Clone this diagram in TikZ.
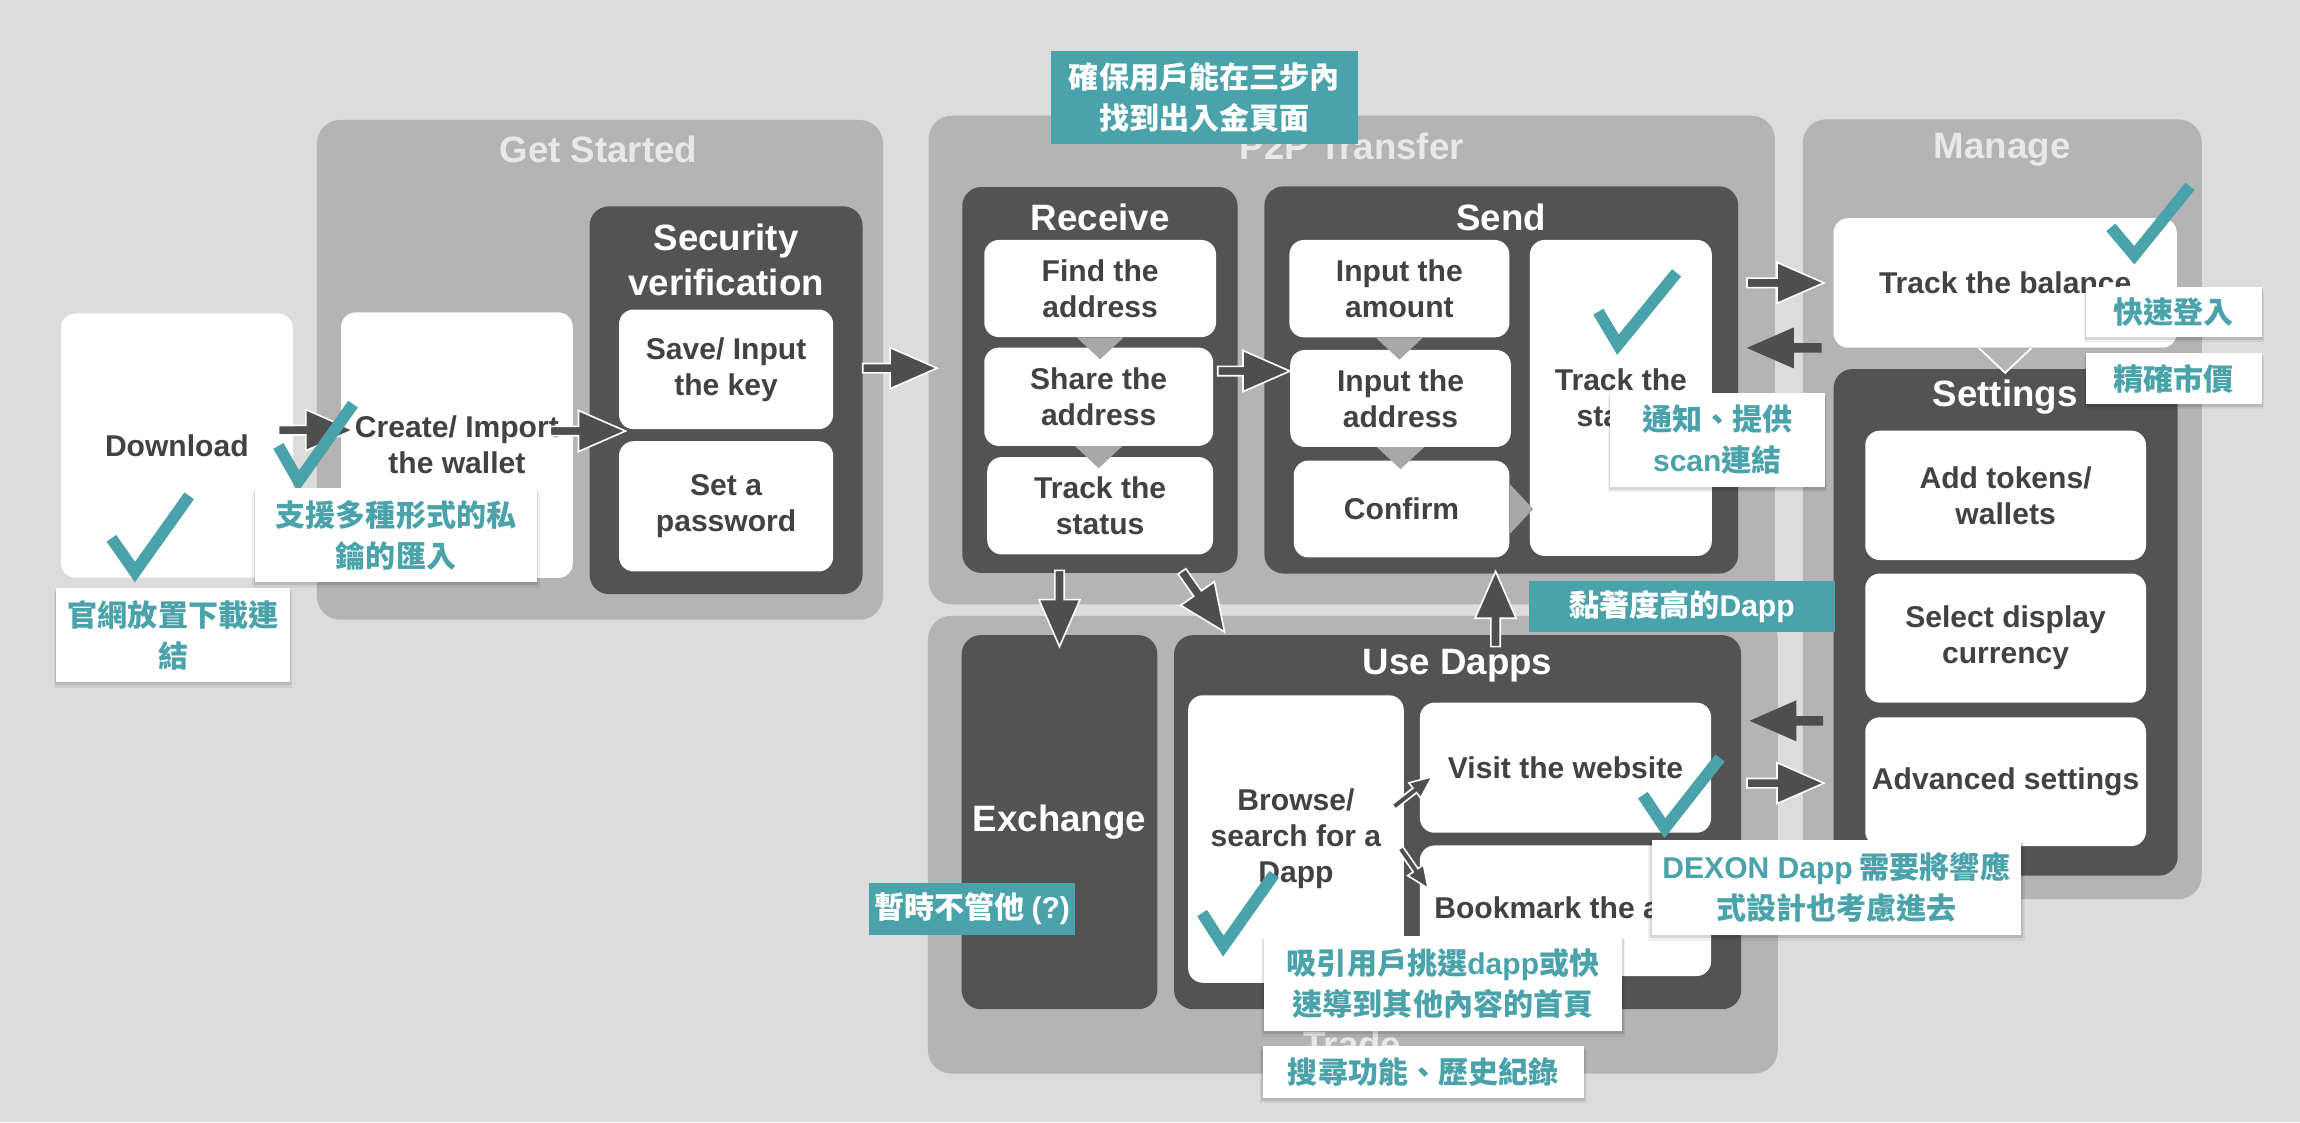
\documentclass[tikz,border=0pt]{standalone}
\usepackage{fontspec}
\setmainfont{Liberation Sans}
\newfontfamily\cjk{Noto Sans CJK TC}
\usetikzlibrary{calc,shadows}
\definecolor{bgc}{RGB}{220,220,220}
\definecolor{panelc}{RGB}{180,180,180}
\definecolor{darkc}{RGB}{83,83,83}
\definecolor{txtc}{RGB}{66,66,66}
\definecolor{tealc}{RGB}{74,163,170}
\definecolor{ptitlec}{RGB}{232,232,232}
\definecolor{tric}{RGB}{168,168,168}
\definecolor{arrc}{RGB}{78,78,78}
\newcommand\lat[1]{{\rmfamily #1}}
\def\arsw{3.2pt}\def\arhw{14pt}\def\arhl{32pt}
\tikzset{
  panelbox/.style={fill=panelc, rounded corners=16pt, inner sep=0pt},
  darkbox/.style={fill=darkc, rounded corners=13pt, inner sep=0pt},
  wbox/.style={fill=white, rounded corners=10pt, inner sep=0pt, text=txtc, align=center,
    font=\bfseries\fontsize{20.5}{24.5}\selectfont},
  ptitle/.style={text=ptitlec, inner sep=0pt, font=\bfseries\fontsize{25}{31}\selectfont},
  dtitle/.style={text=white, align=center, inner sep=0pt, font=\bfseries\fontsize{25}{31}\selectfont},
  blockpath/.style={to path={let \p1=(\tikztostart), \p2=(\tikztotarget),
      \n1={atan2(\y2-\y1,\x2-\x1)} in
      ($(\p1)+(\n1+90:\arsw)$) -- ($(\p2)+(\n1+180:\arhl)+(\n1+90:\arsw)$)
      -- ($(\p2)+(\n1+180:\arhl)+(\n1+90:\arhw)$) -- (\p2)
      -- ($(\p2)+(\n1+180:\arhl)+(\n1-90:\arhw)$) -- ($(\p2)+(\n1+180:\arhl)+(\n1-90:\arsw)$)
      -- ($(\p1)+(\n1-90:\arsw)$) -- cycle}},
  barrow/.style={blockpath, fill=arrc, draw=white, line width=1.1pt, line join=miter},
  parrow/.style={blockpath, fill=arrc},
  smallarrow/.style={/utils/exec={\def\arsw{2pt}\def\arhw{6.5pt}\def\arhl{15pt}}},
  tri/.style={fill=tric},
  check/.style={draw=tealc, line width=8pt, line cap=butt, line join=miter},
  wnote/.style={fill=white, inner sep=0pt, text=tealc, align=center,
    font=\cjk\bfseries\fontsize{20.5}{28}\selectfont,
    drop shadow={shadow xshift=0pt, shadow yshift=-3pt, shadow scale=1.02, opacity=0.06, fill=black},
    drop shadow={shadow xshift=0pt, shadow yshift=-1.5pt, shadow scale=1.01, opacity=0.1, fill=black}},
  tnote/.style={fill=tealc, inner sep=0pt, text=white, align=center,
    font=\cjk\bfseries\fontsize{20.5}{28}\selectfont},
}
\begin{document}
\begin{tikzpicture}[x=1pt,y=-1pt]
\useasboundingbox[fill=bgc] (0,0) rectangle (1568,765);

% panels
\node[panelbox, minimum width=386pt, minimum height=340.7pt] (gs) at (409,252.15) {};
\node[panelbox, minimum width=577pt, minimum height=333.1pt] (p2p) at (921.5,245.45) {};
\node[panelbox, minimum width=579.4pt, minimum height=312.1pt] (trd) at (922.3,575.85) {};
\node[panelbox, minimum width=272pt, minimum height=531.6pt] (mng) at (1365,347.2) {};
\node[ptitle] (gst) at (408,101.6) {Get Started};
\node[ptitle] (p2pt) at (921.5,100) {P2P Transfer};
\node[ptitle] (trdt) at (922,712) {Trade};
\node[ptitle] (mngt) at (1365,102) {Manage};

% get started
\node[wbox, minimum width=158.1pt, minimum height=180.1pt] (dl) at (120.55,303.75) {Download};
\node[wbox, minimum width=158pt, minimum height=181pt] (cr) at (311.5,303.5) {Create/ Import\\the wallet};
\node[darkbox, minimum width=186pt, minimum height=264.3pt] (sec) at (495,272.85) {};
\node[dtitle] (sect) at (495,177) {Security\\verification};
\node[wbox, minimum width=146pt, minimum height=81.6pt] (sk) at (495,251.8) {Save/ Input\\the key};
\node[wbox, minimum width=146pt, minimum height=88.8pt] (pw) at (495,345.2) {Set a\\password};

% receive
\node[darkbox, minimum width=187.7pt, minimum height=263.1pt] (rcv) at (749.85,259.05) {};
\node[dtitle] (rcvt) at (750,148) {Receive};
\node[wbox, minimum width=158pt, minimum height=66.2pt] (find) at (750,196.7) {Find the\\address};
\node[wbox, minimum width=156pt, minimum height=67pt] (share) at (749,270.5) {Share the\\address};
\node[wbox, minimum width=154pt, minimum height=66.4pt] (rtrack) at (750,344.8) {Track the\\status};

% send
\node[darkbox, minimum width=323pt, minimum height=264pt] (snd) at (1023.5,259) {};
\node[dtitle] (sndt) at (1023.5,148) {Send};
\node[wbox, minimum width=150pt, minimum height=66.4pt] (amt) at (954,196.8) {Input the\\amount};
\node[wbox, minimum width=150.4pt, minimum height=66.1pt] (iaddr) at (954.8,271.65) {Input the\\address};
\node[wbox, minimum width=147pt, minimum height=66pt] (conf) at (955.5,347) {Confirm};
\node[wbox, minimum width=124pt, minimum height=215.4pt] (strack) at (1105,271.3) {Track the\\status};

% manage
\node[wbox, minimum width=234pt, minimum height=88.3pt] (bal) at (1367,192.85) {Track the balance};
\node[darkbox, minimum width=234.6pt, minimum height=345.4pt] (sett) at (1367.3,424.3) {};
\node[dtitle] (settt) at (1367,271) {Settings};
\node[wbox, minimum width=191.4pt, minimum height=88.2pt] (tok) at (1367.3,337.7) {Add tokens/\\wallets};
\node[wbox, minimum width=191.4pt, minimum height=88pt] (cur) at (1367.3,435) {Select display\\currency};
\node[wbox, minimum width=191.4pt, minimum height=87.8pt] (adv) at (1367.3,532.9) {Advanced settings};

% trade
\node[darkbox, minimum width=133.4pt, minimum height=255pt, text=white,
  font=\bfseries\fontsize{25}{31}\selectfont] (exch) at (722.3,560.5) {Exchange};
\node[darkbox, minimum width=386.6pt, minimum height=255pt] (dapps) at (993.7,560.5) {};
\node[dtitle] (dappst) at (993.7,454) {Use Dapps};
\node[wbox, minimum width=147pt, minimum height=196pt] (brw) at (883.5,572) {Browse/\\search for a\\Dapp};
\node[wbox, minimum width=198.5pt, minimum height=88.7pt] (visit) at (1067.25,523.35) {Visit the website};
\node[wbox, minimum width=198.5pt, minimum height=89pt] (bkm) at (1067.25,620.9) {Bookmark the app};

% small triangles
\fill[tri] ($(find.south)+(-16,0)$) -- ($(find.south)+(16,0)$) -- ($(find.south)+(0,15)$) -- cycle;
\fill[tri] ($(share.south)+(-16,0)$) -- ($(share.south)+(16,0)$) -- ($(share.south)+(0,15)$) -- cycle;
\fill[tri] ($(amt.south)+(-16,0)$) -- ($(amt.south)+(16,0)$) -- ($(amt.south)+(0,15)$) -- cycle;
\fill[tri] ($(iaddr.south)+(-16,0)$) -- ($(iaddr.south)+(16,0)$) -- ($(iaddr.south)+(0,15)$) -- cycle;
\fill[tri] ($(conf.east)+(0,-17)$) -- ($(conf.east)+(0,17)$) -- ($(conf.east)+(16,0)$) -- cycle;
\filldraw[fill=panelc, draw=white, line width=1.2pt, line join=miter]
  ($(bal.south)+(-18,0)$) -- ($(bal.south)+(0,17)$) -- ($(bal.south)+(18,0)$);

% block arrows
\path[barrow] ($(dl.east)+(-9.9,-10.5)$) to ($(cr.west)+(8.2,-10.3)$);
\path[barrow] ($(cr.east)+(-15.5,-9.65)$) to ($(sec.west)+(24.6,21)$);
\path[barrow] ($(gs.east)+(-14,-1.15)$) to ($(p2p.west)+(6,5.55)$);
\path[barrow] ($(share.east)+(3,-17.5)$) to ($(iaddr.west)+(0,-18.65)$);
\path[barrow] ($(snd.east |- bal.west)+(5.8,0)$) to ($(bal.west)+(-6.4,0)$);
\path[parrow] ($(bal.south west)+(-8,0)$) to ($(snd.east |- bal.south)+(5.7,0)$);
\path[parrow] ($(sett.west |- adv.north)+(-7,2.6)$) to ($(dapps.east |- adv.north)+(5.5,2.6)$);
\path[barrow] ($(dapps.east |- adv.west)+(3.8,1)$) to ($(sett.west |- adv.west)+(-6.4,1)$);
\path[barrow] ($(exch.north |- rcv.south)+(0,-2)$) to ($(exch.north)+(0,8)$);
\path[barrow] ($(rcv.south east)+(-38.1,-1.3)$) to ($(dapps.north west)+(34.6,-2)$);
\path[barrow] ($(dapps.north)+(25.9,8)$) to ($(snd.south)+(-3.9,-1.7)$);
\path[barrow, smallarrow] ($(brw.east)+(-7,-22)$) to ($(visit.west)+(8.5,6.2)$);
\path[barrow, smallarrow] ($(brw.east)+(-2.5,6.3)$) to ($(bkm.west)+(5.8,-15.3)$);

% check marks
\draw[check] (76,367) -- (92,390) -- (129,338);
\draw[check] (189.8,304) -- (203.5,328) -- (240.7,275.5);
\draw[check] (1089.6,212.5) -- (1103,235) -- (1143,186);
\draw[check] (1439,155) -- (1455,174) -- (1493,127);
\draw[check] (1120,542) -- (1135,564.6) -- (1172.6,516.7);
\draw[check] (819.5,622.5) -- (834,645) -- (868.6,596);

% notes
\node[tnote, minimum width=209pt, minimum height=63.4pt] (t1) at (821,66.3) {確保用戶能在三步內\\找到出入金頁面};
\node[tnote, minimum width=208.3pt, minimum height=35pt] (t2) at (1146.65,413.25) {黏著度高的\lat{Dapp}};
\node[tnote, minimum width=140.5pt, minimum height=35.5pt] (t3) at (662.75,619.75) {暫時不管他 \lat{(?)}};
\node[wnote, minimum width=159.2pt, minimum height=64pt] (n1) at (118,433) {官網放置下載連\\結};
\node[wnote, minimum width=192pt, minimum height=64pt] (n2) at (270,365) {支援多種形式的私\\鑰的匯入};
\node[wnote, minimum width=146.4pt, minimum height=64pt] (n3) at (1170.8,300) {通知、提供\\\lat{scan}連結};
\node[wnote, minimum width=120pt, minimum height=34.4pt] (n4) at (1482,212.7) {快速登入};
\node[wnote, minimum width=120pt, minimum height=35pt] (n5) at (1482,258.25) {精確市價};
\node[wnote, minimum width=251.7pt, minimum height=65pt] (n6) at (1251.85,605.1) {\lat{DEXON Dapp} 需要將響應\\式設計也考慮進去};
\node[wnote, minimum width=243.6pt, minimum height=65pt] (n7) at (983.8,670.5) {吸引用戶挑選\lat{dapp}或快\\速導到其他內容的首頁};
\node[wnote, minimum width=218.6pt, minimum height=35.6pt] (n8) at (970.3,730.8) {搜尋功能、歷史紀錄};
\end{tikzpicture}
\end{document}
